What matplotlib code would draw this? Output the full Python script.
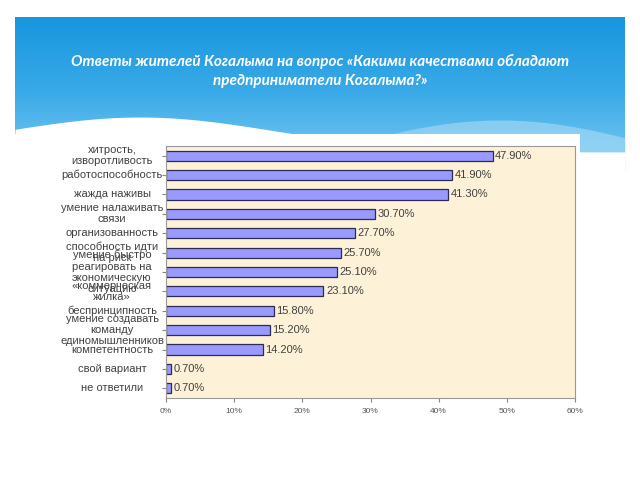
import numpy as np
import matplotlib
matplotlib.use("Agg")
import matplotlib.pyplot as plt
from matplotlib.patches import Rectangle
from matplotlib.colors import LinearSegmentedColormap
import matplotlib.transforms as mtransforms

categories = [
    "хитрость,\nизворотливость",
    "работоспособность",
    "жажда наживы",
    "умение налаживать\nсвязи",
    "организованность",
    "способность идти\nна риск",
    "умение быстро\nреагировать на\nэкономическую\nситуацию",
    "«коммерческая\nжилка»",
    "беспринципность",
    "умение создавать\nкоманду\nединомышленников",
    "компетентность",
    "свой вариант",
    "не ответили",
]
values = [47.9, 41.9, 41.3, 30.7, 27.7, 25.7, 25.1, 23.1, 15.8, 15.2, 14.2, 0.7, 0.7]
xticks = [0, 10, 20, 30, 40, 50, 60]
title = "Ответы жителей Когалыма на вопрос «Какими качествами обладают\nпредприниматели Когалыма?»"

W, H = 640, 480
fig = plt.figure(figsize=(6.4, 4.8), dpi=100)
fig.patch.set_facecolor("white")

# background banner
bg = fig.add_axes([0, 0, 1, 1])
bg.set_xlim(0, W)
bg.set_ylim(H, 0)
bg.axis("off")
grad = np.linspace(0, 1, 256).reshape(-1, 1)
cmap = LinearSegmentedColormap.from_list("b", ["#1796de", "#3aaae8", "#7ccbf2"])
bg.imshow(grad, cmap=cmap, extent=[15, 625, 168, 17], aspect="auto", zorder=0)
xs = np.linspace(15, 625, 300)
# light wave on right
wave2 = 150 - 30 * np.sin((xs - 330) / 340 * np.pi)
bg.fill_between(xs, wave2, 172, color="#a9dcf6", alpha=0.6, zorder=1, lw=0)
# white wave
wave = 152 - 35 * np.exp(-((xs - 140) / 190) ** 2)
bg.fill_between(xs, wave, 176, color="white", zorder=2, lw=0)
bg.add_patch(Rectangle((15, 134), 565, 60, color="white", zorder=3, lw=0))
bg.text(320, 71, title, ha="center", va="center", color="white", fontsize=11,
        fontstyle="italic", fontweight="bold", family="Lato", linespacing=1.45, zorder=4)

ax = fig.add_axes([166 / W, 1 - 398 / H, (575 - 166) / W, (398 - 146) / H])
ax.set_facecolor("#fdf1d8")
y = np.arange(len(values))
ax.barh(y, values, height=0.52, color="#9999ff", edgecolor="#2b2b55", linewidth=0.9)
ax.set_ylim(len(values) - 0.5, -0.5)
ax.set_xlim(0, 60)
ax.set_xticks(xticks)
ax.set_xticklabels([f"{t}%" for t in xticks], fontsize=6, color="#555555", family="Liberation Sans")
ax.set_yticks(y)
ax.set_yticklabels([])
ax.tick_params(axis="y", length=3, color="#888888")
ax.tick_params(axis="x", length=3, color="#888888", pad=4)
for s in ax.spines.values():
    s.set_color("#999999")
    s.set_linewidth(0.8)

trans = mtransforms.blended_transform_factory(ax.transAxes, ax.transData)
xc = (112 - 166) / (575 - 166)
for yi, lab in zip(y, categories):
    ax.text(xc, yi, lab, transform=trans, ha="center", va="center", fontsize=8,
            color="#404040", family="Liberation Sans", linespacing=1.15, clip_on=False)

for yi, v in zip(y, values):
    ax.text(v + 0.4, yi, f"{v:.2f}%", va="center", ha="left", fontsize=8, color="#404040",
            family="Liberation Sans")

fig.savefig("out.png", dpi=100)
